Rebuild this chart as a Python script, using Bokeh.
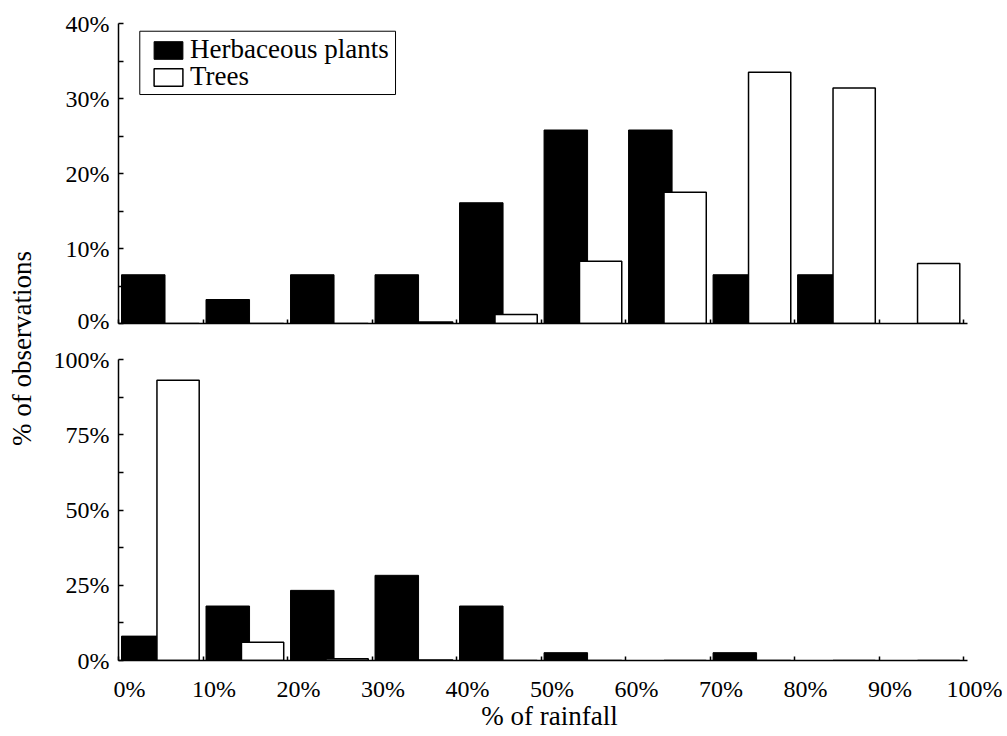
from bokeh.plotting import figure
from bokeh.models import Range1d, FixedTicker, Legend, LegendItem, Title, BoxAnnotation
from bokeh.layouts import row, column
from bokeh.embed import file_html
from bokeh.resources import INLINE

# ---------------- data ----------------
bin_starts = [0, 10, 20, 30, 40, 50, 60, 70, 80, 90]
x_tick_values = [0, 10, 20, 30, 40, 50, 60, 70, 80, 90, 100]
x_tick_labels = ["0%", "10%", "20%", "30%", "40%", "50%", "60%", "70%", "80%", "90%", "100%"]

top_y_ticks = [0, 10, 20, 30, 40]
top_y_minor = [5, 15, 25, 35]
top_y_labels = ["0%", "10%", "20%", "30%", "40%"]
bot_y_ticks = [0, 25, 50, 75, 100]
bot_y_minor = [12.5, 37.5, 62.5, 87.5]
bot_y_labels = ["0%", "25%", "50%", "75%", "100%"]

series_names = ["Herbaceous plants", "Trees"]
herb_top = [6.5, 3.2, 6.5, 6.5, 16.1, 25.8, 25.8, 6.5, 6.5, 0.0]
trees_top = [0.0, 0.0, 0.0, 0.2, 1.2, 8.3, 17.5, 33.5, 31.4, 8.0]
herb_bot = [8.1, 18.1, 23.3, 28.3, 18.1, 2.6, 0.0, 2.6, 0.0, 0.0]
trees_bot = [93.1, 6.1, 0.6, 0.2, 0.0, 0.0, 0.0, 0.0, 0.0, 0.0]

x_axis_title = "% of rainfall"
y_axis_title = "% of observations"

# ---------------- style ----------------
FONT = "Liberation Serif"
HERB_OFF, HERB_W = 2.93, 5.15
TREE_OFF, TREE_W = 7.05, 5.0
LABEL_SHIFT = 1.3
LEFT = 74
FIG_W = LEFT + 862 + 22

xr = Range1d(0, 102)


def style_common(p):
    p.xgrid.visible = False
    p.ygrid.visible = False
    p.outline_line_color = None
    p.background_fill_color = "white"
    p.border_fill_color = "white"
    for ax in p.axis:
        ax.axis_line_color = "black"
        ax.axis_line_width = 1.5
        ax.major_tick_line_color = "black"
        ax.major_tick_line_width = 1.5
        ax.minor_tick_line_color = "black"
        ax.minor_tick_line_width = 1.5
        ax.major_label_text_font = FONT
        ax.major_label_text_font_size = "24px"
        ax.major_label_text_color = "black"
        ax.axis_label_text_font = FONT
        ax.axis_label_text_font_size = "27px"
        ax.axis_label_text_font_style = "normal"
        ax.axis_label_text_color = "black"


def draw_bars(p, herb, trees):
    r1 = p.vbar(x=[s + HERB_OFF for s in bin_starts], top=herb, bottom=0, width=HERB_W,
                fill_color="black", line_color="black", line_width=1)
    r2 = p.vbar(x=[s + TREE_OFF for s in bin_starts], top=trees, bottom=0, width=TREE_W,
                fill_color="white", line_color="black", line_width=1.5)
    return r1, r2


def style_y(ax, ticks, minor, labels, lo, hi):
    ax.ticker = FixedTicker(ticks=ticks, minor_ticks=minor)
    ax.major_label_overrides = {t: l for t, l in zip(ticks, labels)}
    ax.major_tick_in = 5
    ax.major_tick_out = 0
    ax.minor_tick_in = 5
    ax.minor_tick_out = 0
    ax.major_label_standoff = 9
    ax.bounds = (lo, hi)


def make_legend(item, loc):
    lg = Legend(items=[item], location=loc)
    lg.label_text_font = FONT
    lg.label_text_font_size = "27px"
    lg.label_text_color = "black"
    lg.glyph_width = 36
    lg.glyph_height = 22
    lg.label_standoff = 4
    lg.padding = 0
    lg.margin = 0
    lg.border_line_color = None
    lg.background_fill_alpha = 0
    return lg


# ---------------- top panel ----------------
top = figure(width=FIG_W, height=333, x_range=xr, y_range=Range1d(0, 40),
             output_backend="svg", toolbar_location=None,
             min_border_left=LEFT, min_border_right=22, min_border_top=23, min_border_bottom=10)
style_common(top)
h1, t1 = draw_bars(top, herb_top, trees_top)
style_y(top.yaxis[0], top_y_ticks, top_y_minor, top_y_labels, 0, 40)
xa = top.xaxis[0]
xa.ticker = FixedTicker(ticks=[], minor_ticks=x_tick_values)
xa.major_tick_line_color = None
xa.minor_tick_in = 4
xa.minor_tick_out = 0
xa.major_label_standoff = 0
xa.bounds = (0, 100.5)

# legend frame (one box around both entries)
top.add_layout(BoxAnnotation(left=2.52, right=32.78, top=38.97, bottom=30.53,
                             fill_color="white", fill_alpha=1,
                             line_color="black", line_alpha=1, line_width=1))
top.add_layout(make_legend(LegendItem(label=series_names[0], renderers=[h1]), (32, 258)))
top.add_layout(make_legend(LegendItem(label=series_names[1], renderers=[t1]), (32, 231)))

# ---------------- bottom panel ----------------
bot = figure(width=FIG_W, height=400, x_range=xr, y_range=Range1d(0, 100),
             output_backend="svg", toolbar_location=None,
             min_border_left=LEFT, min_border_right=22, min_border_top=26, min_border_bottom=72)
style_common(bot)
draw_bars(bot, herb_bot, trees_bot)
style_y(bot.yaxis[0], bot_y_ticks, bot_y_minor, bot_y_labels, 0, 100)
xb = bot.xaxis[0]
label_pos = [round(v + LABEL_SHIFT, 2) for v in x_tick_values]
xb.ticker = FixedTicker(ticks=label_pos, minor_ticks=x_tick_values)
xb.major_label_overrides = {t: l for t, l in zip(label_pos, x_tick_labels)}
xb.major_tick_line_color = None
xb.major_tick_in = 0
xb.major_tick_out = 0
xb.minor_tick_in = 4
xb.minor_tick_out = 0
xb.major_label_standoff = 15
xb.axis_label = x_axis_title
xb.axis_label_standoff = -4
xb.bounds = (0, 100.5)

# ---------------- shared y title ----------------
lab = figure(width=44, height=733, output_backend="svg",
             toolbar_location=None, x_axis_location=None, y_axis_location=None,
             min_border_left=36, min_border_right=0, min_border_top=24, min_border_bottom=61)
lab.outline_line_color = None
lab.grid.visible = False
lab.add_layout(Title(text=y_axis_title, align="center", text_font=FONT,
                     text_font_size="27px", text_font_style="normal",
                     text_color="black", standoff=0, offset=0), "left")

layout = row(lab, column(top, bot))

with open("out.html", "w") as f:
    f.write(file_html(layout, INLINE))
